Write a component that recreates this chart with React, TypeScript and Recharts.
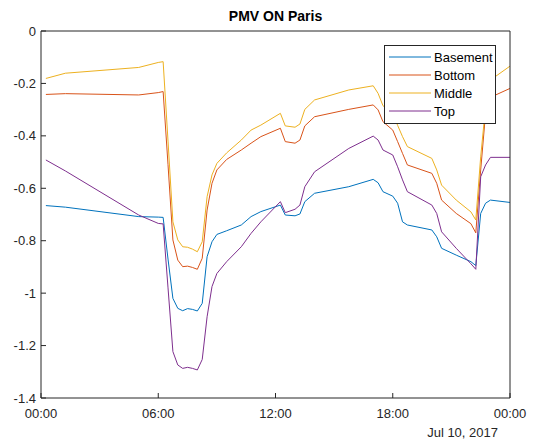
import { LineChart, Line, XAxis, YAxis, Legend } from "recharts";

// hours since midnight, Jul 10 2017
const hours = [
  0.25, 1.25, 5, 6, 6.25, 6.5, 6.75, 7, 7.25, 7.5, 7.75, 8, 8.25, 8.5, 8.75, 9, 9.5,
  10.25, 10.75, 11.25, 12.25, 12.5, 13, 13.25, 13.5, 14, 15.75, 17, 17.25, 17.5, 18,
  18.25, 18.5, 18.75, 20, 20.25, 20.5, 21.25, 22, 22.25, 22.5, 22.75, 23, 24
];

const basement = [
  -0.666, -0.672, -0.708, -0.71, -0.711, -0.87, -1.02, -1.058, -1.067, -1.059, -1.062,
  -1.068, -1.039, -0.861, -0.804, -0.776, -0.762, -0.74, -0.708, -0.689, -0.664, -0.702,
  -0.705, -0.698, -0.651, -0.619, -0.594, -0.566, -0.579, -0.613, -0.63, -0.657, -0.728,
  -0.74, -0.759, -0.785, -0.829, -0.855, -0.88, -0.895, -0.696, -0.657, -0.645, -0.654
];

const bottom = [
  -0.242, -0.239, -0.244, -0.235, -0.231, -0.51, -0.797, -0.874, -0.899, -0.897, -0.902,
  -0.909, -0.867, -0.683, -0.581, -0.53, -0.49, -0.454, -0.428, -0.403, -0.371, -0.422,
  -0.428, -0.416, -0.362, -0.327, -0.299, -0.282, -0.301, -0.346, -0.378, -0.422, -0.467,
  -0.511, -0.543, -0.581, -0.645, -0.696, -0.735, -0.77, -0.53, -0.314, -0.253, -0.219
];

const middle = [
  -0.181, -0.161, -0.139, -0.12, -0.117, -0.42, -0.728, -0.797, -0.823, -0.825, -0.832,
  -0.842, -0.804, -0.632, -0.549, -0.505, -0.465, -0.416, -0.378, -0.359, -0.314, -0.362,
  -0.367, -0.355, -0.299, -0.263, -0.225, -0.209, -0.238, -0.285, -0.315, -0.36, -0.403,
  -0.441, -0.486, -0.53, -0.588, -0.645, -0.69, -0.721, -0.48, -0.289, -0.187, -0.134
];

const top = [
  -0.492, -0.534, -0.702, -0.734, -0.736, -0.98, -1.223, -1.274, -1.287, -1.283, -1.287,
  -1.293, -1.253, -1.09, -0.975, -0.925, -0.88, -0.823, -0.772, -0.728, -0.651, -0.693,
  -0.68, -0.664, -0.594, -0.537, -0.448, -0.401, -0.416, -0.454, -0.473, -0.518, -0.568,
  -0.613, -0.664, -0.696, -0.766, -0.829, -0.888, -0.909, -0.556, -0.511, -0.482, -0.482
];

const xTicks = [0, 6, 12, 18, 24];
const yTicks = [-1.4, -1.2, -1, -0.8, -0.6, -0.4, -0.2, 0];

const FONT = "'Liberation Sans', Arial, Helvetica, sans-serif";
const INK = "#262626";

const data = hours.map((h, i) => ({
  h,
  Basement: basement[i],
  Bottom: bottom[i],
  Middle: middle[i],
  Top: top[i]
}));

const fmtTime = (h: number) => `${String(h % 24).padStart(2, "0")}:00`;

function LegendBox(props: any) {
  const items = props.payload || [];
  return (
    <div
      style={{
        border: "1px solid #262626",
        background: "#fff",
        padding: "2px 0 3px 0",
        fontFamily: FONT,
        fontSize: 13,
        color: "#000"
      }}
    >
      {items.map((it: any) => (
        <div key={it.value} style={{ display: "flex", alignItems: "center", height: 18 }}>
          <svg width={46} height={18} style={{ marginLeft: 2 }}>
            <line x1={2} x2={44} y1={9} y2={9} stroke={it.color} strokeWidth={1} />
          </svg>
          <span style={{ marginLeft: 1 }}>{it.value}</span>
        </div>
      ))}
    </div>
  );
}

export default function App() {
  return (
    <div style={{ position: "absolute", left: 0, top: 0, width: 534, height: 445, background: "#fff" }}>
      <div
        style={{
          position: "absolute",
          left: 41,
          width: 469,
          top: 8,
          textAlign: "center",
          fontFamily: FONT,
          fontWeight: "bold",
          fontSize: 14,
          color: "#000"
        }}
      >
        PMV ON Paris
      </div>
      <div
        style={{
          position: "absolute",
          right: 36,
          top: 425,
          fontFamily: FONT,
          fontSize: 13,
          color: INK
        }}
      >
        Jul 10, 2017
      </div>
      <LineChart
        width={534}
        height={445}
        data={data}
        margin={{ top: 0, right: 0, bottom: 17, left: 0 }}
        style={{ fontFamily: FONT }}
      >
        <XAxis
          xAxisId="t"
          dataKey="h"
          type="number"
          domain={[0, 24]}
          ticks={xTicks}
          tickFormatter={fmtTime}
          height={30}
          tickSize={-5}
          tickMargin={16}
          stroke={INK}
          tick={{ fill: INK, fontSize: 13 }}
          interval={0}
        />
        <XAxis
          xAxisId="tt"
          orientation="top"
          type="number"
          domain={[0, 24]}
          ticks={xTicks}
          height={31}
          tickSize={-5}
          tick={false}
          stroke={INK}
        />
        <YAxis
          yAxisId="v"
          type="number"
          domain={[-1.4, 0]}
          ticks={yTicks}
          width={41}
          tickSize={-5}
          tickMargin={10}
          stroke={INK}
          tick={{ fill: INK, fontSize: 13 }}
          interval={0}
        />
        <YAxis
          yAxisId="r"
          orientation="right"
          type="number"
          domain={[-1.4, 0]}
          ticks={yTicks}
          width={24}
          tickSize={-5}
          tick={false}
          stroke={INK}
        />
        <Legend
          layout="horizontal"
          verticalAlign="middle"
          align="center"
          content={LegendBox}
          wrapperStyle={{ position: "absolute", top: 45, left: 384, width: 112 }}
        />
        <Line xAxisId="t" yAxisId="v" type="linear" dataKey="Basement" stroke="#0072BD" strokeWidth={1} dot={false} isAnimationActive={false} />
        <Line xAxisId="t" yAxisId="v" type="linear" dataKey="Bottom" stroke="#D95319" strokeWidth={1} dot={false} isAnimationActive={false} />
        <Line xAxisId="t" yAxisId="v" type="linear" dataKey="Middle" stroke="#EDB120" strokeWidth={1} dot={false} isAnimationActive={false} />
        <Line xAxisId="t" yAxisId="v" type="linear" dataKey="Top" stroke="#7E2F8E" strokeWidth={1} dot={false} isAnimationActive={false} />
      </LineChart>
    </div>
  );
}
